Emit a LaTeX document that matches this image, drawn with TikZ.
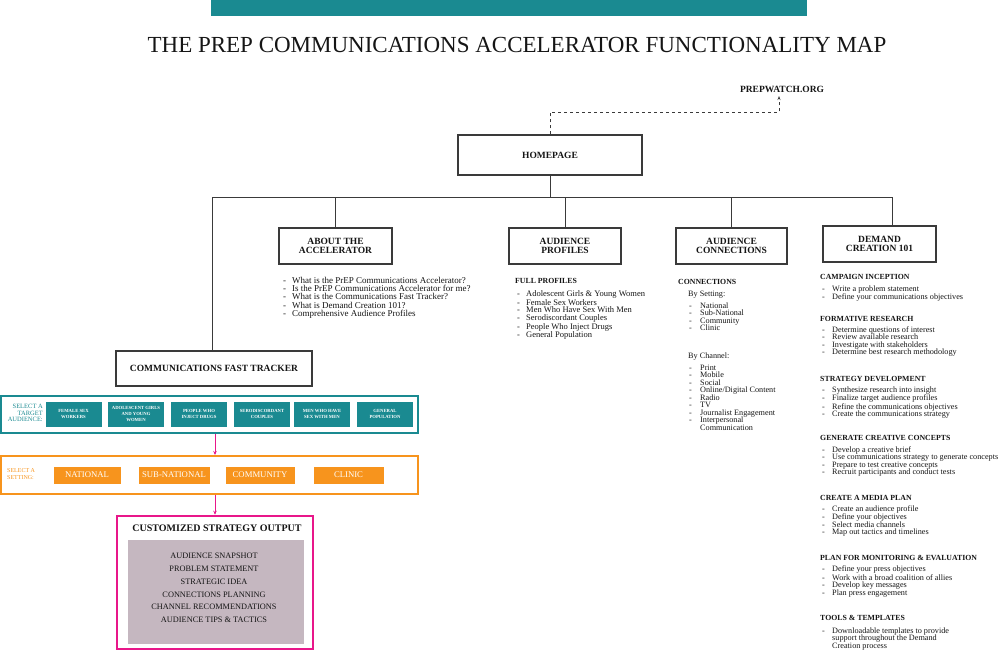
\documentclass[tikz,border=0pt]{standalone}
\usepackage{fontspec}
\setmainfont{Liberation Serif}
\usetikzlibrary{arrows.meta}
\definecolor{teal1}{HTML}{1A8A91}
\definecolor{orange1}{HTML}{F7941D}
\definecolor{pink1}{HTML}{E8178A}
\definecolor{mauve}{HTML}{C5B7C0}
\definecolor{ink}{HTML}{151515}
\definecolor{frame}{HTML}{3A3A3A}
\newcommand{\dl}[1]{\makebox[9pt][l]{-}#1}
\newcommand{\dlw}[1]{\makebox[10pt][l]{-}#1}
\newcommand{\dlc}[1]{\makebox[11pt][l]{-}#1}
\begin{document}
\begin{tikzpicture}[x=1pt,y=-1pt,
  secbox/.style={draw=frame, line width=1.4pt, fill=white, align=center, text=ink,
    font=\fontsize{9.5}{9.5}\selectfont\bfseries, inner sep=0pt},
  conn/.style={draw=frame, line width=0.9pt},
  hd/.style={anchor=west, inner sep=0pt, text=ink, font=\fontsize{7.8}{7.8}\selectfont\bfseries},
  lst/.style={anchor=north west, inner sep=0pt, align=left, text=ink, font=\fontsize{8.2}{7.5}\selectfont},
  audbox/.style={fill=teal1, draw=white, line width=0.5pt, text=white, align=center, inner sep=0pt,
    minimum width=57pt, minimum height=26pt, font=\fontsize{4.7}{5.6}\selectfont\bfseries},
  setbox/.style={fill=orange1, draw=white, line width=0.5pt, text=white, inner sep=0pt,
    minimum height=18pt, font=\fontsize{8.7}{8.7}\selectfont},
  pinkarrow/.style={draw=pink1, line width=0.9pt, -{Stealth[length=4pt,width=3.5pt]}}
]
\useasboundingbox (0,0) rectangle (1000,650);

% top bar and title
\fill[teal1] (211,0) rectangle (807,16);
\node[font=\fontsize{23}{23}\selectfont, text=ink, inner sep=0pt] (title) at (517,45)
  {THE PREP COMMUNICATIONS ACCELERATOR FUNCTIONALITY MAP};

% prepwatch
\node[font=\fontsize{9.5}{9.5}\selectfont\bfseries, text=ink, inner sep=0pt] (pw) at (782,89) {PREPWATCH.ORG};
\coordinate (pwtip) at (779,96);

% main boxes
\node[secbox, minimum width=184pt, minimum height=40pt] (home) at (550,155) {HOMEPAGE};
\node[secbox, minimum width=113pt, minimum height=36pt] (about) at (335.5,246) {ABOUT THE\\ACCELERATOR};
\node[secbox, minimum width=112pt, minimum height=36pt] (prof) at (565,246) {AUDIENCE\\PROFILES};
\node[secbox, minimum width=111pt, minimum height=36pt] (aconn) at (731.5,246) {AUDIENCE\\CONNECTIONS};
\node[secbox, minimum width=113pt, minimum height=36pt] (demand) at (879.5,244) {DEMAND\\CREATION 101};
\node[secbox, minimum width=196pt, minimum height=35pt] (cft) at (214,368.5) {COMMUNICATIONS FAST TRACKER};

% dashed link to prepwatch
\draw[conn, dashed, -{Stealth[length=4pt,width=3pt]}] (home.north) -- ++(0,-22) -| (pwtip);

% bus
\coordinate (busL) at (212,197);
\coordinate (busR) at (892,197);
\draw[conn] (home.south) -- (home.south |- busL);
\draw[conn] (busL) -- (busR);
\draw[conn] (busL) -- (busL |- cft.north);
\draw[conn] (about.north |- busL) -- (about.north);
\draw[conn] (prof.north |- busL) -- (prof.north);
\draw[conn] (aconn.north |- busL) -- (aconn.north);
\draw[conn] (busR) -- (busR |- demand.north);

% about list
\node[lst, font=\fontsize{9}{8.2}\selectfont] (aboutlist) at (283,277) {%
\dl{What is the PrEP Communications Accelerator?}\\
\dl{Is the PrEP Communications Accelerator for me?}\\
\dl{What is the Communications Fast Tracker?}\\
\dl{What is Demand Creation 101?}\\
\dl{Comprehensive Audience Profiles}};

% profiles
\node[hd] (profhd) at (515,281) {FULL PROFILES};
\node[lst, font=\fontsize{8.5}{7.6}\selectfont] (proflist) at (517,290.5) {%
\dl{Adolescent Girls \& Young Women}\\
\dl{Female Sex Workers}\\
\dl{Men Who Have Sex With Men}\\
\dl{Serodiscordant Couples}\\
\dl{People Who Inject Drugs}\\
\dl{General Population}};

% connections
\node[hd] (connhd) at (678,282) {CONNECTIONS};
\node[lst, anchor=west] (bysetting) at (688,295) {By Setting:};
\node[lst] (setlist) at (689,302.5) {%
\dlc{National}\\
\dlc{Sub-National}\\
\dlc{Community}\\
\dlc{Clinic}};
\node[lst, anchor=west] (bychannel) at (688,357) {By Channel:};
\node[lst] (chlist) at (689,364.5) {%
\dlc{Print}\\
\dlc{Mobile}\\
\dlc{Social}\\
\dlc{Online/Digital Content}\\
\dlc{Radio}\\
\dlc{TV}\\
\dlc{Journalist Engagement}\\
\dlc{Interpersonal}\\
\hspace*{11pt}Communication};

% demand creation
\node[hd] (d1) at (820,277) {CAMPAIGN INCEPTION};
\node[lst] (d1l) at (822,285.5) {%
\dlw{Write a problem statement}\\
\dlw{Define your communications objectives}};
\node[hd] (d2) at (820,319) {FORMATIVE RESEARCH};
\node[lst] (d2l) at (822,326.5) {%
\dlw{Determine questions of interest}\\
\dlw{Review available research}\\
\dlw{Investigate with stakeholders}\\
\dlw{Determine best research methodology}};
\node[hd] (d3) at (820,379) {STRATEGY DEVELOPMENT};
\node[lst] (d3l) at (822,386.5) {%
\dlw{Synthesize research into insight}\\
\dlw{Finalize target audience profiles}\\
\dlw{Refine the communications objectives}\\
\dlw{Create the communications strategy}};
\node[hd] (d4) at (820,438) {GENERATE CREATIVE CONCEPTS};
\node[lst] (d4l) at (822,446.5) {%
\dlw{Develop a creative brief}\\
\dlw{Use communications strategy to generate concepts}\\
\dlw{Prepare to test creative concepts}\\
\dlw{Recruit participants and conduct tests}};
\node[hd] (d5) at (820,498) {CREATE A MEDIA PLAN};
\node[lst] (d5l) at (822,505.5) {%
\dlw{Create an audience profile}\\
\dlw{Define your objectives}\\
\dlw{Select media channels}\\
\dlw{Map out tactics and timelines}};
\node[hd] (d6) at (820,558) {PLAN FOR MONITORING \& EVALUATION};
\node[lst] (d6l) at (822,565.5) {%
\dlw{Define your press objectives}\\
\dlw{Work with a broad coalition of allies}\\
\dlw{Develop key messages}\\
\dlw{Plan press engagement}};
\node[hd] (d7) at (820,618) {TOOLS \& TEMPLATES};
\node[lst] (d7l) at (822,627.5) {%
\dlw{Downloadable templates to provide}\\
\hspace*{10pt}support throughout the Demand\\
\hspace*{10pt}Creation process};

% select audience
\node[draw=teal1, line width=2pt, minimum width=417pt, minimum height=37pt, inner sep=0pt] (aud) at (209.5,414) {};
\node[anchor=east, align=right, inner sep=0pt, text=teal1, font=\fontsize{6.5}{6.8}\selectfont] (audlbl) at (43,413)
  {SELECT A\\TARGET\\AUDIENCE:};
\node[audbox] (a1) at (73.5,414) {FEMALE SEX\\WORKERS};
\node[audbox] (a2) at (136,414) {ADOLESCENT GIRLS\\AND YOUNG\\WOMEN};
\node[audbox] (a3) at (199,414) {PEOPLE WHO\\INJECT DRUGS};
\node[audbox] (a4) at (262,414) {SERODISCORDANT\\COUPLES};
\node[audbox] (a5) at (322,414) {MEN WHO HAVE\\SEX WITH MEN};
\node[audbox] (a6) at (385,414) {GENERAL\\POPULATION};

% select setting
\node[draw=orange1, line width=2pt, minimum width=417pt, minimum height=38pt, inner sep=0pt] (set) at (209.5,475) {};
\node[anchor=west, align=left, inner sep=0pt, text=orange1, font=\fontsize{6}{6.5}\selectfont] (setlbl) at (7,474)
  {SELECT A\\SETTING:};
\node[setbox, minimum width=68pt] (s1) at (87,475) {NATIONAL};
\node[setbox, minimum width=72pt] (s2) at (174,475) {SUB-NATIONAL};
\node[setbox, minimum width=70pt] (s3) at (260,475) {COMMUNITY};
\node[setbox, minimum width=71pt] (s4) at (348.5,475) {CLINIC};

% customized strategy output
\node[draw=pink1, line width=2.5pt, minimum width=196pt, minimum height=133pt, inner sep=0pt] (cso) at (215,582.5) {};
\node[inner sep=0pt, text=ink, font=\fontsize{10}{10}\selectfont\bfseries] (csotitle) at (217,528) {CUSTOMIZED STRATEGY OUTPUT};
\node[fill=mauve, minimum width=176pt, minimum height=104pt, inner sep=0pt] (csoin) at (216,592) {};
\node[align=center, inner sep=0pt, text=ink, font=\fontsize{8.3}{12.8}\selectfont] (csolist) at (214,588)
  {AUDIENCE SNAPSHOT\\PROBLEM STATEMENT\\STRATEGIC IDEA\\CONNECTIONS PLANNING\\CHANNEL RECOMMENDATIONS\\AUDIENCE TIPS \& TACTICS};

% pink arrows
\draw[pinkarrow] (aud.south -| cso.north) -- (set.north -| cso.north);
\draw[pinkarrow] (set.south -| cso.north) -- (cso.north);
\end{tikzpicture}
\end{document}
